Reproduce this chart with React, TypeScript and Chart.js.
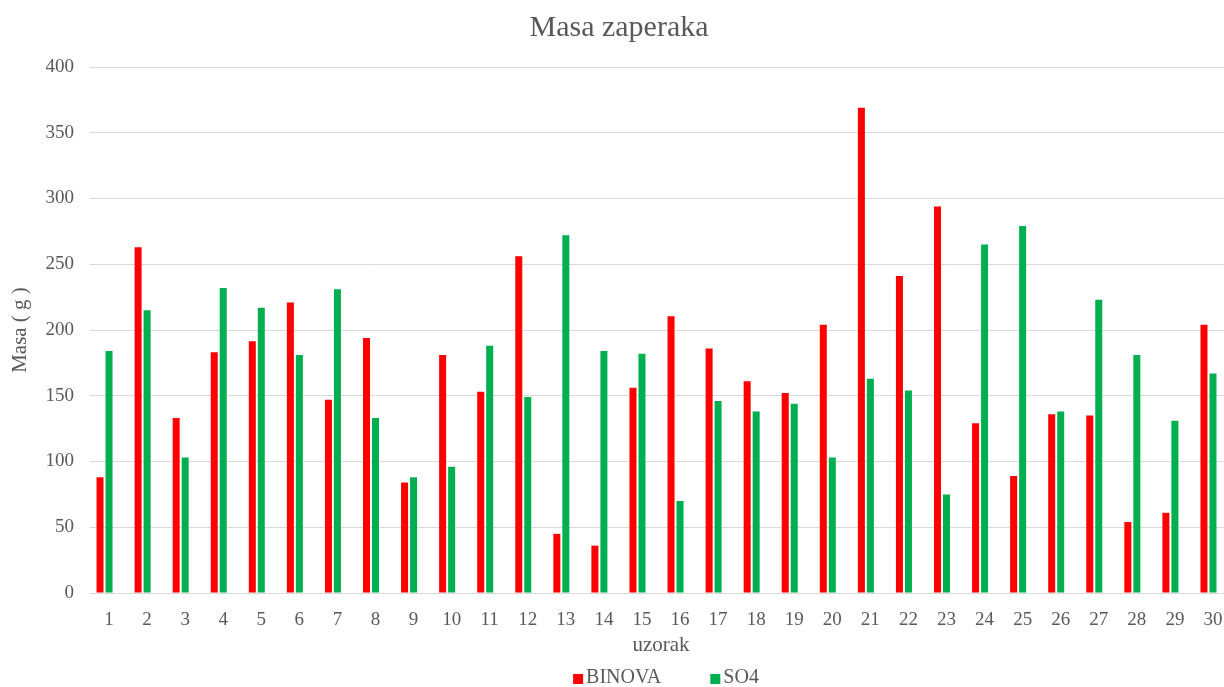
import React, { useEffect, useRef } from "react";
import { Chart, registerables } from "chart.js";

Chart.register(...registerables);

const categories = [
  "1", "2", "3", "4", "5", "6", "7", "8", "9", "10",
  "11", "12", "13", "14", "15", "16", "17", "18", "19", "20",
  "21", "22", "23", "24", "25", "26", "27", "28", "29", "30",
];

const binova = [
  88, 263, 133, 183, 191.5, 221, 147, 194, 84, 181,
  153, 256, 45, 36, 156, 210.5, 186, 161, 152, 204,
  369, 241, 294, 129, 89, 136, 135, 54, 61, 204,
];

const so4 = [
  184, 215, 103, 232, 217, 181, 231, 133, 88, 96,
  188, 149, 272, 184, 182, 70, 146, 138, 144, 103,
  163, 154, 75, 265, 279, 138, 223, 181, 131, 167,
];

// The source chart reserves a third (empty) series slot in every group.
const emptySeries: number[] = [];

const seriesNames = ["BINOVA", "SO4"];
const seriesColors = ["#ff0000", "#00b050"];
const titleText = "Masa zaperaka";
const yTitle = "Masa ( g )";
const xTitle = "uzorak";

const FONT = "'Liberation Serif', 'Times New Roman', serif";
const TEXT = "#595959";

const bottomLegend = {
  id: "bottomLegend",
  afterDraw(chart: any) {
    const ctx = chart.ctx as CanvasRenderingContext2D;
    const area = chart.chartArea;
    ctx.save();
    ctx.font = `20px ${FONT}`;
    ctx.textBaseline = "middle";
    ctx.textAlign = "left";
    const box = 10;
    const gapBoxText = 3;
    const gapItems = 49;
    const widths = seriesNames.map((n) => ctx.measureText(n).width);
    let total = 0;
    widths.forEach((w, i) => {
      total += box + gapBoxText + w + (i < widths.length - 1 ? gapItems : 0);
    });
    let x = (area.left + area.right) / 2 + 5 - total / 2;
    const yMid = 679;
    seriesNames.forEach((name, i) => {
      ctx.fillStyle = seriesColors[i];
      ctx.fillRect(x, yMid - 5, box, box);
      x += box + gapBoxText;
      ctx.fillStyle = TEXT;
      ctx.fillText(name, x, yMid - 1);
      x += widths[i] + gapItems;
    });
    ctx.restore();
  },
};

export default function App() {
  const ref = useRef<HTMLCanvasElement | null>(null);

  useEffect(() => {
    if (!ref.current) return;
    const chart = new Chart(ref.current, {
      type: "bar",
      data: {
        labels: categories,
        datasets: [
          {
            label: seriesNames[0],
            data: binova,
            backgroundColor: seriesColors[0],
            borderWidth: 0,
            categoryPercentage: 0.709,
            barPercentage: 0.78,
          },
          {
            label: seriesNames[1],
            data: so4,
            backgroundColor: seriesColors[1],
            borderWidth: 0,
            categoryPercentage: 0.709,
            barPercentage: 0.78,
          },
          {
            label: "",
            data: emptySeries,
            backgroundColor: "rgba(0,0,0,0)",
            borderWidth: 0,
            categoryPercentage: 0.709,
            barPercentage: 0.78,
          },
        ],
      },
      plugins: [bottomLegend],
      options: {
        animation: false,
        responsive: false,
        maintainAspectRatio: false,
        layout: { padding: { left: 6, right: 0, top: 0, bottom: 25 } },
        plugins: {
          title: {
            display: true,
            text: titleText,
            color: TEXT,
            font: { family: FONT, size: 30, weight: "normal" },
            padding: { top: 10, bottom: 21 },
          },
          legend: { display: false },
          tooltip: { enabled: false },
        },
        scales: {
          x: {
            grid: { display: false },
            border: { display: true, color: "#d9d9d9", width: 1 },
            ticks: {
              color: TEXT,
              font: { family: FONT, size: 19 },
              padding: 8,
              maxRotation: 0,
              autoSkip: false,
            },
            title: {
              display: true,
              text: xTitle,
              color: TEXT,
              font: { family: FONT, size: 21 },
              padding: { top: 0, bottom: 4 },
            },
            afterFit(scale: any) {
              scale.height = 69;
            },
          },
          y: {
            min: 0,
            max: 400,
            ticks: {
              stepSize: 50,
              color: TEXT,
              font: { family: FONT, size: 19 },
              padding: 16,
            },
            grid: { color: "#d9d9d9", drawTicks: false },
            border: { display: false },
            title: {
              display: true,
              text: yTitle,
              color: TEXT,
              font: { family: FONT, size: 21 },
              padding: { top: 2, bottom: 0 },
            },
            afterFit(scale: any) {
              scale.width = 84;
            },
          },
        },
      },
    });
    return () => chart.destroy();
  }, []);

  return (
    <div
      style={{
        position: "fixed",
        left: 0,
        top: 0,
        width: 1224,
        height: 687,
        overflow: "hidden",
        background: "#fff",
      }}
    >
      <canvas ref={ref} width={1232} height={687} style={{ display: "block" }} />
    </div>
  );
}
